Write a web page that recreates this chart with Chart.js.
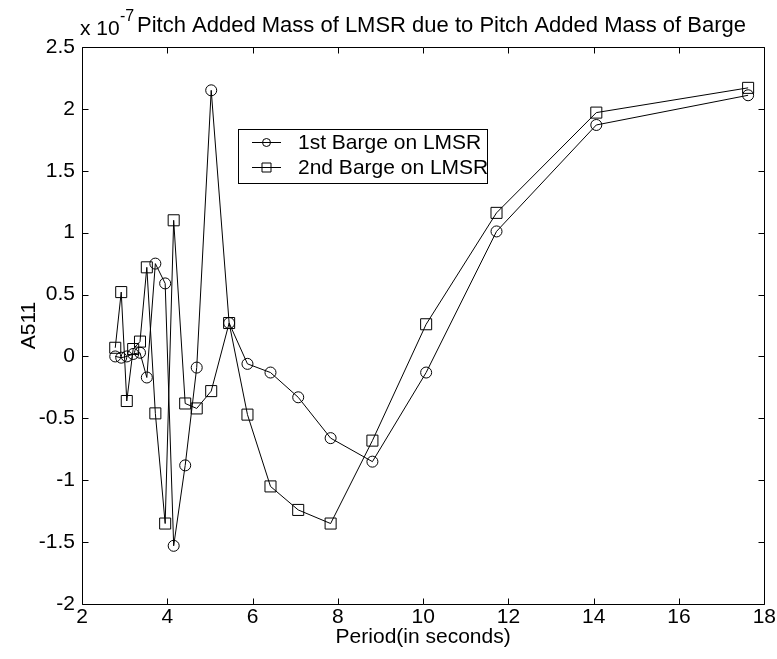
<!DOCTYPE html>
<html>
<head>
<meta charset="utf-8">
<title>Pitch Added Mass of LMSR</title>
<script src="https://cdn.jsdelivr.net/npm/chart.js@4.4.1/dist/chart.umd.min.js"></script>
<style>
  html, body { margin: 0; padding: 0; background: #fff; }
  #chart { display: block; }
</style>
</head>
<body>
<canvas id="chart" width="777" height="659"></canvas>
<script>
// ===== Data (A511 values are in units of 1e-7) =====
const periods = [2.78, 2.92, 3.05, 3.20, 3.36, 3.52, 3.72, 3.95, 4.15, 4.42, 4.69,
                 5.03, 5.45, 5.88, 6.42, 7.07, 7.83, 8.81, 10.07, 11.72, 14.06, 17.62];
const barge1 = [0.00, -0.01, 0.00, 0.02, 0.03, -0.17, 0.75, 0.59, -1.53, -0.88, -0.09,
                2.15, 0.27, -0.06, -0.13, -0.33, -0.66, -0.85, -0.13, 1.01, 1.87, 2.11];
const barge2 = [0.07, 0.52, -0.36, 0.06, 0.12, 0.72, -0.46, -1.35, 1.10, -0.38, -0.42,
                -0.28, 0.27, -0.47, -1.05, -1.24, -1.35, -0.68, 0.26, 1.16, 1.97, 2.17];
const seriesLabels = ['1st Barge on LMSR', '2nd Barge on LMSR'];
const xTicks = [2, 4, 6, 8, 10, 12, 14, 16, 18];
const yTicks = [-2, -1.5, -1, -0.5, 0, 0.5, 1, 1.5, 2, 2.5];

const FONT = '"Liberation Sans", Arial, Helvetica, sans-serif';

function toPoints(ys) {
  return periods.map((p, i) => ({ x: p, y: ys[i] }));
}

// ===== Axes box with inward ticks on all four sides =====
const frameTicks = {
  id: 'frameTicks',
  afterDatasetsDraw(chart) {
    const { ctx, chartArea: a, scales: { x, y } } = chart;
    const L = Math.round(a.left) + 0.5, R = Math.round(a.right) + 0.5;
    const T = Math.round(a.top) + 0.5, B = Math.round(a.bottom) + 0.5;
    const len = 6;
    ctx.save();
    ctx.strokeStyle = '#000';
    ctx.lineWidth = 1;
    ctx.beginPath();
    ctx.rect(L, T, R - L, B - T);
    xTicks.forEach(v => {
      const px = Math.round(x.getPixelForValue(v)) + 0.5;
      ctx.moveTo(px, B); ctx.lineTo(px, B - len);
      ctx.moveTo(px, T); ctx.lineTo(px, T + len);
    });
    yTicks.forEach(v => {
      const py = Math.round(y.getPixelForValue(v)) + 0.5;
      ctx.moveTo(L, py); ctx.lineTo(L + len, py);
      ctx.moveTo(R, py); ctx.lineTo(R - len, py);
    });
    ctx.stroke();
    ctx.restore();
  }
};

// ===== Title, exponent label and boxed legend =====
function drawMarker(ctx, style, cx, cy, r) {
  ctx.beginPath();
  if (style === 'circle') {
    ctx.arc(cx, cy, r, 0, Math.PI * 2);
  } else {
    ctx.rect(cx - r, cy - r, 2 * r, 2 * r);
  }
  ctx.stroke();
}

const annotations = {
  id: 'annotations',
  afterDraw(chart) {
    const { ctx } = chart;
    ctx.save();
    ctx.fillStyle = '#000';
    ctx.strokeStyle = '#000';
    ctx.lineWidth = 1;
    ctx.textBaseline = 'alphabetic';
    ctx.textAlign = 'left';

    // exponent label over the y axis
    ctx.font = '21px ' + FONT;
    ctx.fillText('x 10', 80, 35);
    ctx.font = '16px ' + FONT;
    ctx.fillText('-7', 120, 21);

    // title
    ctx.font = '22px ' + FONT;
    ctx.fillText('Pitch Added Mass of LMSR due to Pitch Added Mass of Barge', 137, 32);

    // legend
    const box = { x: 238.5, y: 129.5, w: 249, h: 54 };
    ctx.fillStyle = '#fff';
    ctx.fillRect(box.x, box.y, box.w, box.h);
    ctx.strokeRect(box.x, box.y, box.w, box.h);
    ctx.fillStyle = '#000';
    ctx.font = '21px ' + FONT;
    ctx.textBaseline = 'middle';
    const rows = [142, 167];
    chart.data.datasets.forEach((ds, i) => {
      const yy = rows[i] + 0.5;
      ctx.beginPath();
      ctx.moveTo(252, yy); ctx.lineTo(281, yy);
      ctx.stroke();
      drawMarker(ctx, ds.pointStyle, 266.5, yy, ds.pointStyle === 'circle' ? 4 : 4.5);
      ctx.fillText(ds.label, 298, rows[i] + 1);
    });
    ctx.restore();
  }
};

new Chart(document.getElementById('chart'), {
  type: 'line',
  data: {
    datasets: [
      {
        label: seriesLabels[0],
        data: toPoints(barge1),
        borderColor: '#000',
        borderWidth: 1,
        pointStyle: 'circle',
        pointRadius: 5.5,
        pointBorderWidth: 1,
        pointBorderColor: '#000',
        pointBackgroundColor: 'rgba(0,0,0,0)',
        tension: 0
      },
      {
        label: seriesLabels[1],
        data: toPoints(barge2),
        borderColor: '#000',
        borderWidth: 1,
        pointStyle: 'rect',
        pointRadius: 7.8,
        pointBorderWidth: 1,
        pointBorderColor: '#000',
        pointBackgroundColor: 'rgba(0,0,0,0)',
        tension: 0
      }
    ]
  },
  options: {
    responsive: false,
    animation: false,
    clip: false,
    layout: { padding: { left: 0, top: 47, right: 11, bottom: 0 } },
    plugins: {
      legend: { display: false },
      title: { display: false },
      tooltip: { enabled: false }
    },
    scales: {
      x: {
        type: 'linear',
        min: 2, max: 18,
        afterBuildTicks: s => { s.ticks = xTicks.map(v => ({ value: v })); },
        afterFit: s => { s.height = 55; },
        grid: { display: false, drawTicks: false, tickLength: 0 },
        border: { display: false },
        ticks: {
          color: '#000', padding: 1, maxRotation: 0, autoSkip: false,
          font: { family: FONT, size: 21 },
          callback: v => String(v)
        },
        title: {
          display: true, text: 'Period(in seconds)', color: '#000',
          font: { family: FONT, size: 21 },
          padding: { top: 0, bottom: 9 }
        }
      },
      y: {
        type: 'linear',
        min: -2, max: 2.5,
        afterBuildTicks: s => { s.ticks = yTicks.map(v => ({ value: v })); },
        afterFit: s => { s.width = 82; },
        grid: { display: false, drawTicks: false, tickLength: 0 },
        border: { display: false },
        ticks: {
          color: '#000', padding: 7, autoSkip: false,
          font: { family: FONT, size: 21 },
          callback: v => String(v)
        },
        title: {
          display: true, text: 'A511', color: '#000',
          font: { family: FONT, size: 21 },
          padding: { top: 17, bottom: 0 }
        }
      }
    }
  },
  plugins: [frameTicks, annotations]
});
</script>
</body>
</html>
